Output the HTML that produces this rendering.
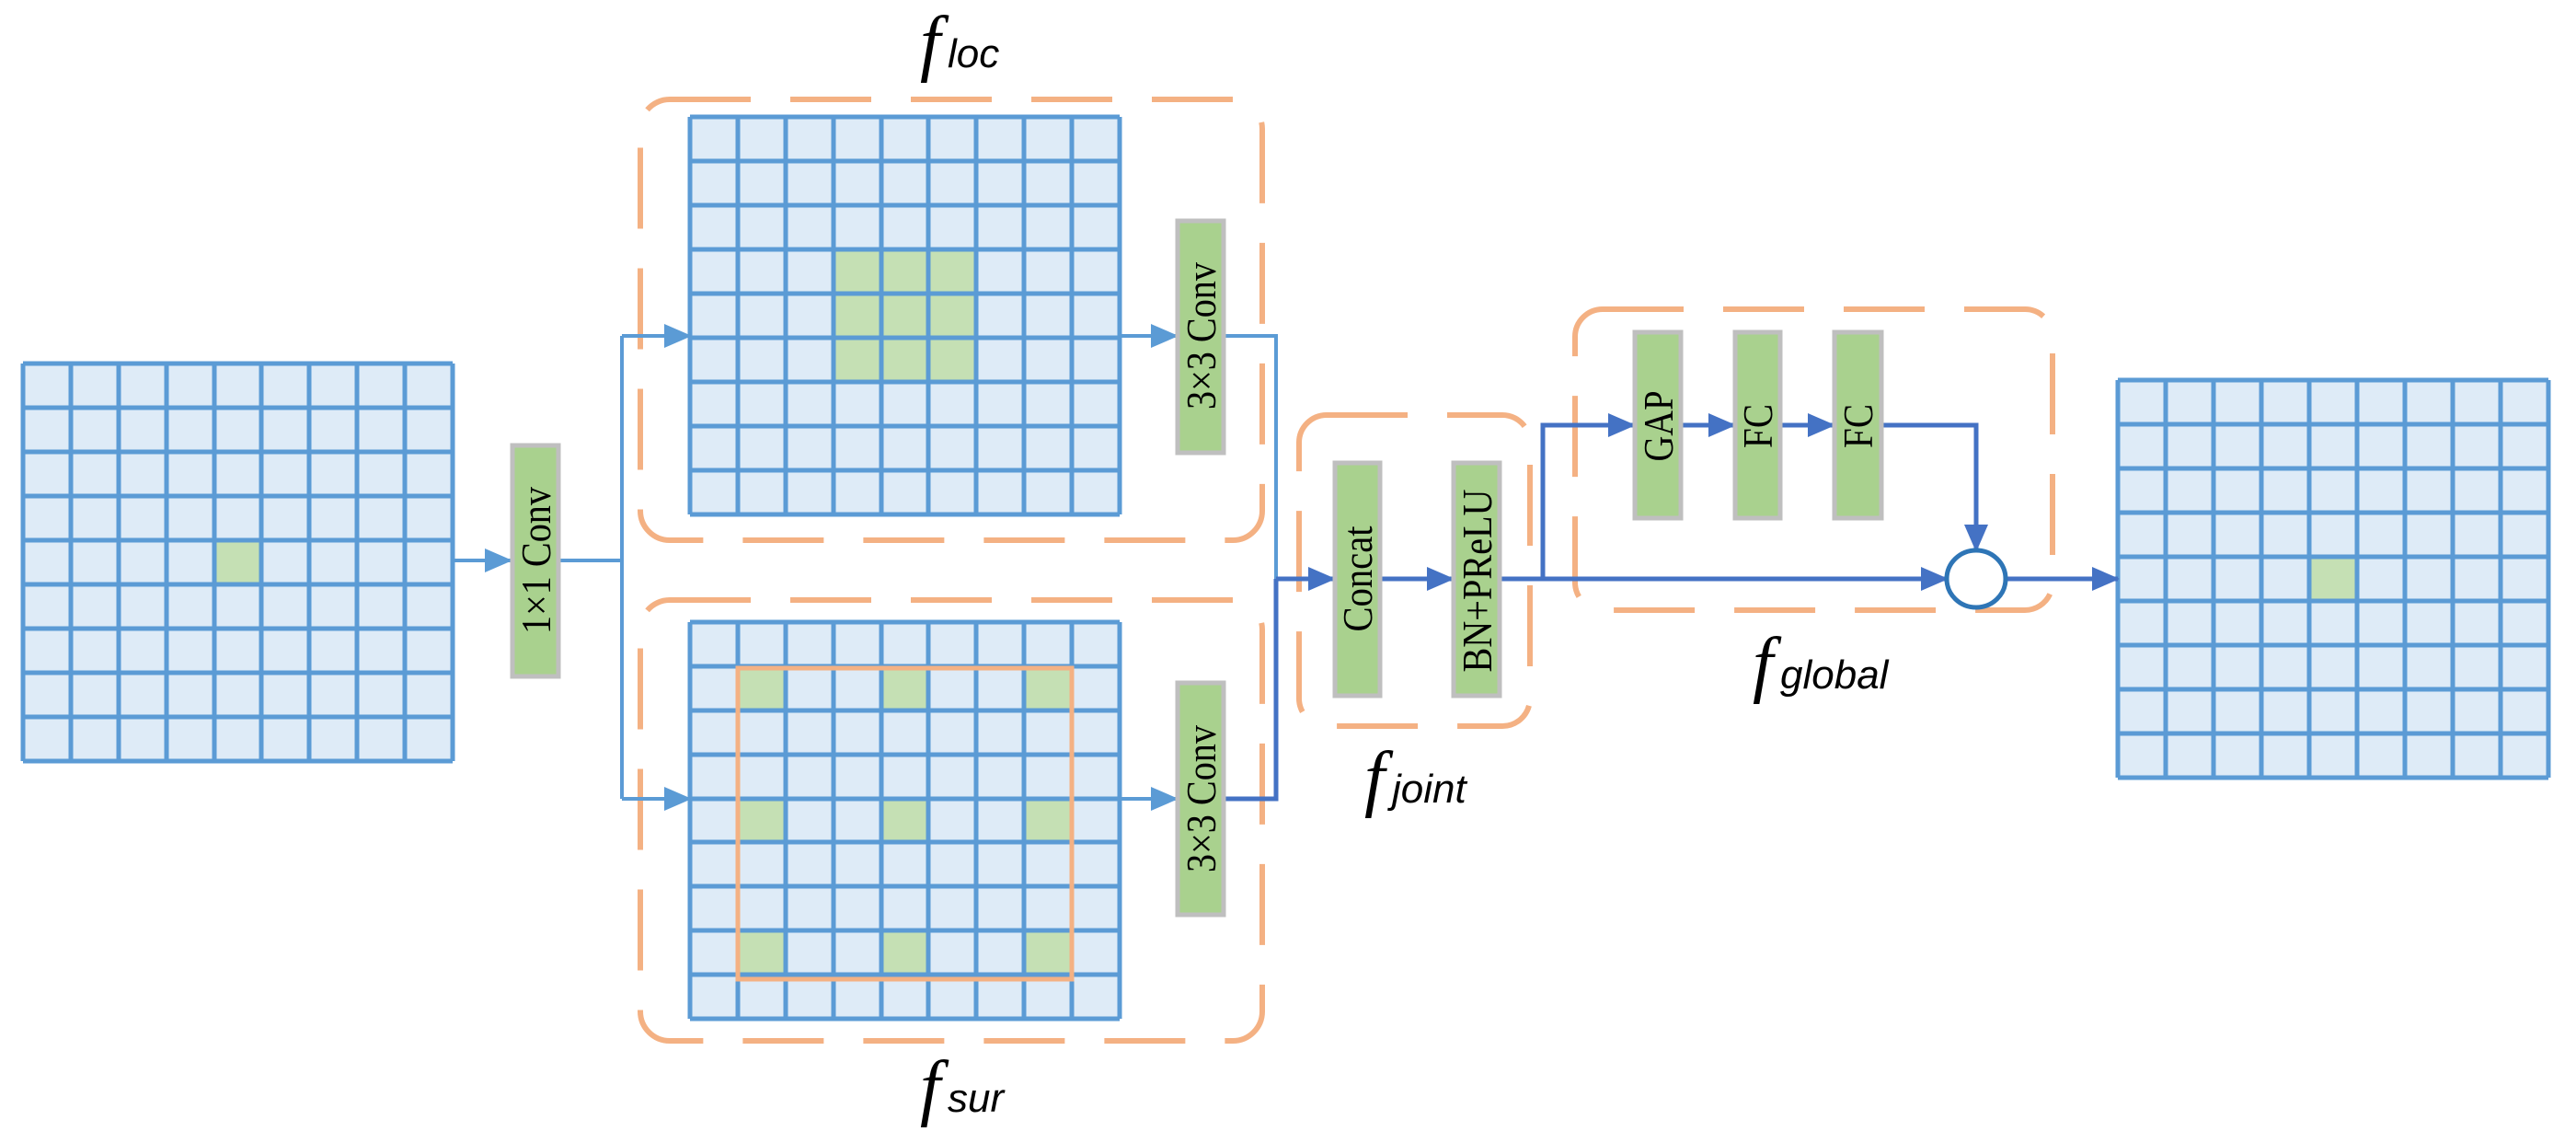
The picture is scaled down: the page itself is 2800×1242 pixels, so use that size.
<!DOCTYPE html>
<html><head><meta charset="utf-8"><style>
html,body{margin:0;padding:0;background:#fff;}
svg{display:block;}
.lbl{font-family:"Liberation Serif",serif;font-size:46px;fill:#000;}
.f{font-family:"Liberation Serif",serif;font-style:italic;font-size:80px;fill:#000;}
.s{font-family:"Liberation Sans",sans-serif;font-style:italic;font-size:44px;fill:#000;}
</style></head><body>
<svg width="2800" height="1242" viewBox="0 0 2800 1242" xmlns="http://www.w3.org/2000/svg">
<defs>
<marker id="a1" markerWidth="30" markerHeight="26" refX="28" refY="13" orient="auto" markerUnits="userSpaceOnUse" viewBox="0 0 30 26"><path d="M0,0 L30,13 L0,26z" fill="#5b9bd5"/></marker>
<marker id="a2" markerWidth="30" markerHeight="26" refX="28" refY="13" orient="auto" markerUnits="userSpaceOnUse" viewBox="0 0 30 26"><path d="M0,0 L30,13 L0,26z" fill="#4472c4"/></marker>
</defs>
<g stroke="#f4b183" stroke-width="6" fill="none" stroke-dasharray="88 43">
<rect x="696" y="108" width="676" height="479" rx="32"/>
<rect x="696" y="652" width="676" height="479" rx="32"/>
<rect x="1412" y="451" width="251" height="338" rx="30"/>
<rect x="1712" y="336" width="519" height="327" rx="30"/>
</g>
<rect x="25" y="395" width="467" height="432" fill="#deebf7"/>
<rect x="233" y="587" width="51" height="48" fill="#c5e0b4"/>
<path fill="none" stroke="#5b9bd5" stroke-width="5" d="M25,395V827M77,395V827M129,395V827M181,395V827M233,395V827M284,395V827M336,395V827M388,395V827M440,395V827M492,395V827M25,395H492M25,443H492M25,491H492M25,539H492M25,587H492M25,635H492M25,683H492M25,731H492M25,779H492M25,827H492"/>
<rect x="750" y="127" width="467" height="432" fill="#deebf7"/>
<rect x="906" y="271" width="155" height="144" fill="#c5e0b4"/>
<path fill="none" stroke="#5b9bd5" stroke-width="5" d="M750,127V559M802,127V559M854,127V559M906,127V559M958,127V559M1009,127V559M1061,127V559M1113,127V559M1165,127V559M1217,127V559M750,127H1217M750,175H1217M750,223H1217M750,271H1217M750,319H1217M750,367H1217M750,415H1217M750,463H1217M750,511H1217M750,559H1217"/>
<rect x="750" y="676" width="467" height="431" fill="#deebf7"/>
<g fill="#c5e0b4">
<rect x="802" y="724" width="52" height="48"/><rect x="958" y="724" width="51" height="48"/><rect x="1113" y="724" width="52" height="48"/>
<rect x="802" y="868" width="52" height="47"/><rect x="958" y="868" width="51" height="47"/><rect x="1113" y="868" width="52" height="47"/>
<rect x="802" y="1011" width="52" height="48"/><rect x="958" y="1011" width="51" height="48"/><rect x="1113" y="1011" width="52" height="48"/>
</g>
<path fill="none" stroke="#5b9bd5" stroke-width="5" d="M750,676V1107M802,676V1107M854,676V1107M906,676V1107M958,676V1107M1009,676V1107M1061,676V1107M1113,676V1107M1165,676V1107M1217,676V1107M750,676H1217M750,724H1217M750,772H1217M750,820H1217M750,868H1217M750,915H1217M750,963H1217M750,1011H1217M750,1059H1217M750,1107H1217"/>
<rect x="802" y="726" width="363" height="338" fill="none" stroke="#f4b183" stroke-width="5"/>
<rect x="2302" y="413" width="468" height="432" fill="#deebf7"/>
<rect x="2510" y="605" width="52" height="48" fill="#c5e0b4"/>
<path fill="none" stroke="#5b9bd5" stroke-width="5" d="M2302,413V845M2354,413V845M2406,413V845M2458,413V845M2510,413V845M2562,413V845M2614,413V845M2666,413V845M2718,413V845M2770,413V845M2302,413H2770M2302,461H2770M2302,509H2770M2302,557H2770M2302,605H2770M2302,653H2770M2302,701H2770M2302,749H2770M2302,797H2770M2302,845H2770"/>
<g stroke="#5b9bd5" stroke-width="4" fill="none">
<path d="M492,609H555" marker-end="url(#a1)"/>
<path d="M609,609H676M676,365V868"/>
<path d="M676,365H750" marker-end="url(#a1)"/>
<path d="M676,868H750" marker-end="url(#a1)"/>
<path d="M1217,365H1279" marker-end="url(#a1)"/>
<path d="M1217,868H1279" marker-end="url(#a1)"/>
<path d="M1332,365H1387V629"/>
</g>
<g stroke="#4472c4" stroke-width="5" fill="none">
<path d="M1332,868H1387V629"/>
<path d="M1387,629H1450" marker-end="url(#a2)"/>
<path d="M1502,629H1579" marker-end="url(#a2)"/>
<path d="M1632,629H1677V462H1776" marker-end="url(#a2)"/>
<path d="M1677,629H2116" marker-end="url(#a2)"/>
<path d="M1829,462H1885" marker-end="url(#a2)"/>
<path d="M1937,462H1993" marker-end="url(#a2)"/>
<path d="M2047,462H2148V598" marker-end="url(#a2)"/>
<path d="M2180,629H2302" marker-end="url(#a2)"/>
</g>
<ellipse cx="2148" cy="629" rx="32" ry="31" fill="#fff" stroke="#2e75b6" stroke-width="5"/>
<g fill="#a9d18e" stroke="#bfbfbf" stroke-width="5">
<rect x="557" y="484" width="50" height="251"/>
<rect x="1280" y="240" width="50" height="252"/>
<rect x="1280" y="742" width="50" height="252"/>
<rect x="1451" y="503" width="49" height="253"/>
<rect x="1580" y="503" width="50" height="253"/>
<rect x="1777" y="361" width="50" height="202"/>
<rect x="1886" y="361" width="49" height="202"/>
<rect x="1994" y="361" width="51" height="202"/>
</g>
<g class="lbl" text-anchor="middle" lengthAdjust="spacingAndGlyphs">
<text transform="translate(598,609) rotate(-90)" textLength="160" lengthAdjust="spacingAndGlyphs">1×1 Conv</text>
<text transform="translate(1321,365) rotate(-90)" textLength="160" lengthAdjust="spacingAndGlyphs">3×3 Conv</text>
<text transform="translate(1321,868) rotate(-90)" textLength="160" lengthAdjust="spacingAndGlyphs">3×3 Conv</text>
<text transform="translate(1491,629) rotate(-90)" textLength="115" lengthAdjust="spacingAndGlyphs">Concat</text>
<text transform="translate(1621,631) rotate(-90)" textLength="199" lengthAdjust="spacingAndGlyphs">BN+PReLU</text>
<text transform="translate(1818,463) rotate(-90)" textLength="77" lengthAdjust="spacingAndGlyphs">GAP</text>
<text transform="translate(1926,463) rotate(-90)" textLength="48" lengthAdjust="spacingAndGlyphs">FC</text>
<text transform="translate(2035,463) rotate(-90)" textLength="48" lengthAdjust="spacingAndGlyphs">FC</text>
</g>
<text x="1000" y="73" class="f">f</text><text x="1030" y="73" class="s">loc</text>
<text x="1000" y="1208" class="f">f</text><text x="1030" y="1208" class="s">sur</text>
<text x="1483" y="872" class="f">f</text><text x="1513" y="872" class="s">joint</text>
<text x="1905" y="748" class="f">f</text><text x="1935" y="748" class="s">global</text>
</svg>
</body></html>
